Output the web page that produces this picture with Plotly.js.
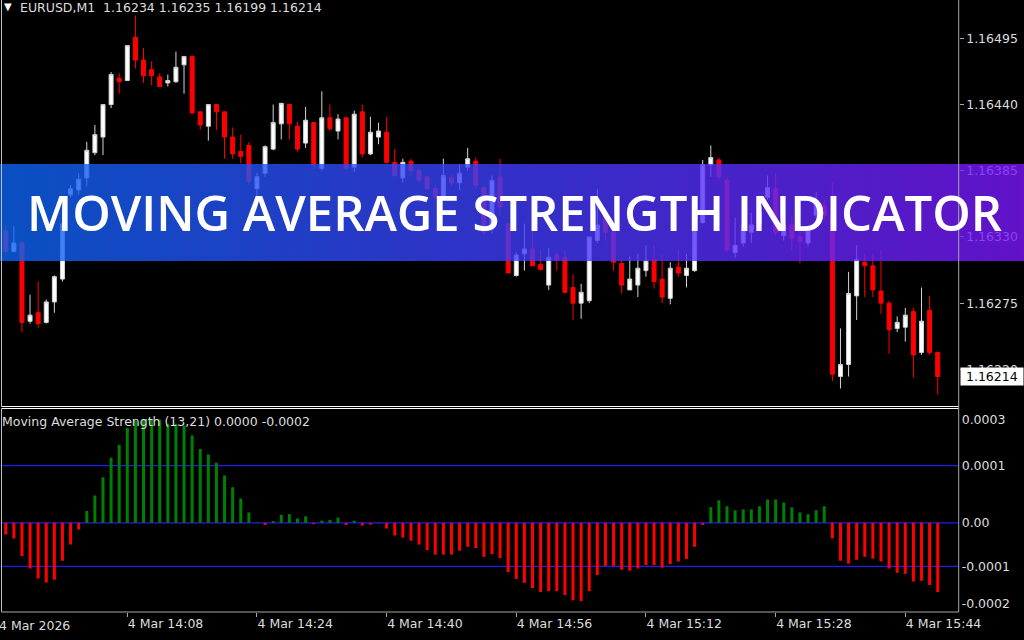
<!DOCTYPE html>
<html>
<head>
<meta charset="utf-8">
<script src="https://cdn.plot.ly/plotly-3.0.1.min.js"></script>
<style>
html,body{margin:0;padding:0;background:#000;overflow:hidden}
#chart{width:1024px;height:640px}
</style>
</head>
<body>
<div id="chart"></div>
<script>
// ---------- data ----------
const minutes = ['13:53','13:54','13:55','13:56','13:57','13:58','13:59',
'14:00','14:01','14:02','14:03','14:04','14:05','14:06','14:07','14:08','14:09','14:10','14:11','14:12','14:13','14:14','14:15','14:16','14:17','14:18','14:19',
'14:20','14:21','14:22','14:23','14:24','14:25','14:26','14:27','14:28','14:29','14:30','14:31','14:32','14:33','14:34','14:35','14:36','14:37','14:38','14:39',
'14:40','14:41','14:42','14:43','14:44','14:45','14:46','14:47','14:48','14:49','14:50','14:51','14:52','14:53','14:54','14:55','14:56','14:57','14:58','14:59',
'15:00','15:01','15:02','15:03','15:04','15:05','15:06','15:07','15:08','15:09','15:10','15:11','15:12','15:13','15:14','15:15','15:16','15:17','15:18','15:19',
'15:20','15:21','15:22','15:23','15:24','15:25','15:26','15:27','15:28','15:29','15:30','15:31','15:32','15:33','15:34','15:35','15:36','15:37','15:38','15:39',
'15:40','15:41','15:42','15:43','15:44','15:45','15:46','15:47','15:48'];

const openP = [1.16335,1.16318,1.16325,1.16260,1.16267,1.16259,1.16276,1.16295,1.16365,1.16369,
1.16379,1.16400,1.16413,1.16440,1.16462,1.16460,1.16496,1.16477,1.16469,1.16463,
1.16458,1.16459,1.16473,1.16480,1.16434,1.16422,1.16440,1.16434,1.16413,1.16401,
1.16406,1.16370,1.16383,1.16403,1.16424,1.16440,1.16422,1.16408,1.16425,1.16387,
1.16429,1.16418,1.16429,1.16388,1.16434,1.16399,1.16413,1.16417,1.16392,1.16379,
1.16393,1.16385,1.16380,1.16370,1.16363,1.16379,1.16375,1.16388,1.16393,1.16371,
1.16339,1.16380,1.16341,1.16298,1.16316,1.16320,1.16307,1.16290,1.16315,1.16313,
1.16288,1.16275,1.16277,1.16327,1.16350,1.16334,1.16308,1.16286,1.16290,1.16302,
1.16311,1.16295,1.16279,1.16305,1.16298,1.16302,1.16342,1.16390,1.16394,1.16377,
1.16317,1.16325,1.16334,1.16341,1.16363,1.16370,1.16331,1.16340,1.16330,1.16325,
1.16348,1.16356,1.16348,1.16214,1.16224,1.16281,1.16309,1.16306,1.16285,1.16275,
1.16254,1.16255,1.16268,1.16234,1.16269,1.16234];

const highP = [1.16340,1.16339,1.16327,1.16282,1.16293,1.16278,1.16298,1.16344,1.16373,1.16383,
1.16409,1.16423,1.16440,1.16467,1.16466,1.16489,1.16514,1.16487,1.16476,1.16466,
1.16465,1.16484,1.16480,1.16481,1.16434,1.16440,1.16440,1.16434,1.16421,1.16415,
1.16409,1.16383,1.16406,1.16440,1.16441,1.16440,1.16426,1.16438,1.16425,1.16451,
1.16440,1.16432,1.16430,1.16435,1.16440,1.16430,1.16425,1.16430,1.16403,1.16395,
1.16395,1.16387,1.16381,1.16373,1.16395,1.16382,1.16390,1.16404,1.16396,1.16373,
1.16381,1.16395,1.16341,1.16317,1.16341,1.16336,1.16319,1.16321,1.16318,1.16319,
1.16299,1.16291,1.16330,1.16370,1.16352,1.16340,1.16312,1.16314,1.16316,1.16323,
1.16323,1.16315,1.16309,1.16319,1.16316,1.16344,1.16394,1.16406,1.16396,1.16379,
1.16346,1.16350,1.16350,1.16361,1.16381,1.16383,1.16348,1.16348,1.16334,1.16338,
1.16367,1.16361,1.16375,1.16254,1.16301,1.16323,1.16316,1.16316,1.16319,1.16277,
1.16264,1.16271,1.16271,1.16288,1.16281,1.16235];

const lowP = [1.16315,1.16317,1.16251,1.16258,1.16254,1.16258,1.16267,1.16293,1.16363,1.16365,
1.16372,1.16398,1.16398,1.16437,1.16449,1.16460,1.16470,1.16458,1.16456,1.16455,
1.16455,1.16458,1.16449,1.16433,1.16419,1.16410,1.16419,1.16395,1.16395,1.16391,
1.16373,1.16362,1.16380,1.16402,1.16411,1.16411,1.16401,1.16404,1.16387,1.16385,
1.16418,1.16411,1.16385,1.16384,1.16396,1.16398,1.16407,1.16391,1.16380,1.16375,
1.16381,1.16375,1.16369,1.16362,1.16362,1.16372,1.16369,1.16385,1.16370,1.16331,
1.16333,1.16348,1.16300,1.16297,1.16302,1.16306,1.16302,1.16286,1.16302,1.16283,
1.16261,1.16262,1.16275,1.16325,1.16327,1.16302,1.16283,1.16286,1.16280,1.16297,
1.16287,1.16275,1.16274,1.16297,1.16288,1.16301,1.16341,1.16380,1.16377,1.16317,
1.16313,1.16322,1.16325,1.16337,1.16361,1.16331,1.16327,1.16319,1.16308,1.16322,
1.16346,1.16344,1.16210,1.16204,1.16214,1.16261,1.16280,1.16280,1.16266,1.16233,
1.16251,1.16243,1.16213,1.16232,1.16232,1.16199];

const closeP = [1.16318,1.16325,1.16259,1.16265,1.16258,1.16276,1.16297,1.16341,1.16370,1.16378,
1.16402,1.16415,1.16440,1.16465,1.16459,1.16489,1.16477,1.16464,1.16464,1.16455,
1.16460,1.16471,1.16480,1.16433,1.16423,1.16440,1.16434,1.16413,1.16399,1.16397,
1.16376,1.16380,1.16405,1.16425,1.16441,1.16424,1.16403,1.16427,1.16390,1.16429,
1.16420,1.16428,1.16387,1.16432,1.16399,1.16417,1.16418,1.16392,1.16381,1.16392,
1.16385,1.16377,1.16370,1.16363,1.16381,1.16375,1.16383,1.16395,1.16373,1.16334,
1.16377,1.16355,1.16300,1.16315,1.16320,1.16306,1.16303,1.16313,1.16311,1.16284,
1.16275,1.16284,1.16330,1.16340,1.16334,1.16309,1.16290,1.16295,1.16304,1.16310,
1.16293,1.16280,1.16304,1.16300,1.16304,1.16342,1.16390,1.16396,1.16380,1.16319,
1.16323,1.16340,1.16340,1.16355,1.16371,1.16334,1.16340,1.16329,1.16326,1.16336,
1.16358,1.16348,1.16216,1.16224,1.16283,1.16311,1.16306,1.16286,1.16275,1.16253,
1.16259,1.16265,1.16232,1.16260,1.16234,1.16214];

// Moving Average Strength, in points (1 point = 0.00001)
const strengthPts = [-2.7,-3.6,-7.6,-10.5,-12.8,-13.7,-13.1,-8.7,-5.0,-1.5,
2.7,6.3,10.5,15.0,17.9,21.8,23.5,23.9,23.9,23.7,
22.8,22.8,22.4,20.1,17.0,15.7,13.8,10.9,8.2,5.6,
2.4,0.1,-0.5,0.4,1.8,2.0,1.0,1.5,-0.3,0.5,
0.7,1.2,-0.5,0.5,-0.6,-0.4,-0.1,-1.3,-2.9,-3.4,
-4.1,-5.0,-6.3,-7.3,-7.3,-7.3,-6.4,-5.5,-5.8,-7.8,
-7.2,-8.1,-11.3,-12.9,-13.8,-15.0,-15.9,-15.7,-15.7,-16.6,
-17.8,-18.0,-15.7,-12.0,-9.9,-9.9,-10.8,-11.0,-10.5,-9.7,
-9.7,-10.3,-9.5,-8.9,-8.3,-5.5,-0.5,3.6,5.2,3.8,
2.9,3.1,3.1,3.8,5.4,5.4,4.7,3.6,2.4,2.0,
2.9,3.8,-3.6,-8.7,-9.4,-8.5,-7.8,-8.2,-8.9,-10.5,
-11.5,-11.7,-13.5,-13.3,-14.3,-15.9];

const priceTicks = [1.16495,1.16440,1.16385,1.16330,1.16275,1.16220];
const priceTickText = ['1.16495','1.16440','1.16385','1.16330','1.16275','1.16220'];
const strengthTicks = [0.0002377,0.0001315,0,-0.0001,-0.0001867];
const strengthTickText = ['0.0003','0.0001','0.00','-0.0001','-0.0002'];
const levelValues = [0.0001315,0,-0.0001];
const timeTicks = ['14:08','14:24','14:40','14:56','15:12','15:28','15:44'];
const timeTickText = ['4 Mar 14:08','4 Mar 14:24','4 Mar 14:40','4 Mar 14:56','4 Mar 15:12','4 Mar 15:28','4 Mar 15:44'];
const firstDateLabel = '4 Mar 2026';
const headerText = 'EURUSD,M1\u00a0\u00a01.16234 1.16235 1.16199 1.16214';
const indicatorText = 'Moving Average Strength (13,21) 0.0000 -0.0002';
const lastPrice = 1.16214;
const bannerText = 'MOVING AVERAGE STRENGTH INDICATOR';

// ---------- build ----------
const day = '2026-03-04 ';
const times = minutes.map(m => day + m);
const W = 1024, H = 640;
const px = v => v / W;          // horizontal pixel -> paper
const py = v => 1 - v / H;      // vertical pixel -> paper
const X0 = px(1.5), X1 = px(958.7);
const xRange = [day + '13:52:28.6', day + '15:50:35.4'];

const strength = strengthPts.map(v => v * 1e-5);

const traces = [
  {
    type: 'candlestick', x: times, open: openP, high: highP, low: lowP, close: closeP,
    xaxis: 'x', yaxis: 'y', whiskerwidth: 0,
    increasing: {line: {color: '#d4d4d4', width: 1}, fillcolor: '#ffffff'},
    decreasing: {line: {color: '#ff0000', width: 1}, fillcolor: '#ff0000'},
    hoverinfo: 'skip', showlegend: false
  },
  {
    type: 'bar', x: times, y: strength.map(v => v > 0 ? v : null),
    xaxis: 'x2', yaxis: 'y2', width: 22000,
    marker: {color: '#008000', line: {width: 0}}, hoverinfo: 'skip', showlegend: false
  },
  {
    type: 'bar', x: times, y: strength.map(v => v < 0 ? v : null),
    xaxis: 'x2', yaxis: 'y2', width: 22000,
    marker: {color: '#ff0000', line: {width: 0}}, hoverinfo: 'skip', showlegend: false
  },
  {
    type: 'scatter', x: [0, 1, 1, 0, 0],
    y: [py(261), py(261), py(164), py(164), py(261)],
    xaxis: 'x3', yaxis: 'y3', mode: 'lines', fill: 'toself',
    line: {width: 0, color: 'rgba(0,0,0,0)'},
    fillgradient: {type: 'horizontal', colorscale: [
      [0, 'rgba(12,100,242,0.80)'],
      [0.5, 'rgba(62,60,250,0.80)'],
      [1, 'rgba(122,22,250,0.80)']
    ]},
    hoverinfo: 'skip', showlegend: false
  }
];

const tickFont = {family: 'DejaVu Sans', size: 12.5, color: '#dddddd'};

const shapes = [
  // main pane borders
  {type: 'line', xref: 'paper', yref: 'paper', x0: X0, x1: X0, y0: py(406.5), y1: 1, line: {color: '#bdbdbd', width: 1}},
  {type: 'line', xref: 'paper', yref: 'paper', x0: X0, x1: X1, y0: py(406.5), y1: py(406.5), line: {color: '#ffffff', width: 1}},
  // indicator pane borders
  {type: 'line', xref: 'paper', yref: 'paper', x0: X0, x1: X1, y0: py(408.5), y1: py(408.5), line: {color: '#ffffff', width: 1}},
  {type: 'line', xref: 'paper', yref: 'paper', x0: X0, x1: X0, y0: py(612), y1: py(408.5), line: {color: '#bdbdbd', width: 1}},
  {type: 'line', xref: 'paper', yref: 'paper', x0: X0, x1: X1, y0: py(612), y1: py(612), line: {color: '#a8a8a8', width: 1}},
  {type: 'line', xref: 'paper', yref: 'paper', x0: X1, x1: X1, y0: py(612), y1: 1, line: {color: '#a8a8a8', width: 1}}
].concat(levelValues.map(v => ({
  type: 'line', xref: 'x2 domain', yref: 'y2', x0: 0, x1: 1, y0: v, y1: v,
  layer: 'below', line: {color: '#1c1cf0', width: 1.2}
})));

const annotations = [
  {xref: 'paper', yref: 'paper', x: px(2.5), y: py(6), xanchor: 'left', yanchor: 'middle',
   text: '\u25BC', showarrow: false, font: {family: 'DejaVu Sans', size: 10, color: '#ffffff'}, borderpad: 0},
  {xref: 'paper', yref: 'paper', x: px(18.5), y: py(7.5), xanchor: 'left', yanchor: 'middle',
   text: headerText, showarrow: false, font: tickFont, borderpad: 0},
  {xref: 'paper', yref: 'paper', x: px(1), y: py(421.7), xanchor: 'left', yanchor: 'middle',
   text: indicatorText, showarrow: false, font: tickFont, borderpad: 0},
  {xref: 'paper', yref: 'paper', x: px(-2.4), y: py(625.7), xanchor: 'left', yanchor: 'middle',
   text: firstDateLabel, showarrow: false, font: tickFont, borderpad: 0},
  {xref: 'paper', yref: 'y', x: px(960), y: lastPrice, xanchor: 'left', yanchor: 'middle',
   text: '\u00a0' + lastPrice.toFixed(5) + '\u00a0', showarrow: false,
   font: {family: 'DejaVu Sans', size: 12.5, color: '#000000'}, bgcolor: '#ffffff', borderpad: 1},
  {xref: 'paper', yref: 'paper', x: px(514), y: py(212), xanchor: 'center', yanchor: 'middle',
   text: bannerText, showarrow: false,
   font: {family: 'Open Sans', size: 49, color: '#ffffff', weight: 600}}
];

const layout = {
  width: W, height: H, margin: {l: 0, r: 0, t: 0, b: 0, pad: 0},
  paper_bgcolor: '#000000', plot_bgcolor: 'rgba(0,0,0,0)',
  showlegend: false, barmode: 'overlay', hovermode: false, dragmode: false,
  font: tickFont,
  xaxis: {domain: [X0, X1], anchor: 'y', type: 'date', range: xRange,
    showticklabels: false, ticks: '', showgrid: false, zeroline: false, showline: false,
    rangeslider: {visible: false}, fixedrange: true},
  yaxis: {domain: [py(406.5), 1], anchor: 'x', side: 'right', range: [1.161891, 1.165269],
    tickmode: 'array', tickvals: priceTicks, ticktext: priceTickText,
    ticks: 'outside', ticklen: 4, tickcolor: '#a8a8a8', tickfont: tickFont,
    showgrid: false, zeroline: false, showline: false, fixedrange: true},
  xaxis2: {domain: [X0, X1], anchor: 'y2', type: 'date', range: xRange,
    tickmode: 'array', tickvals: timeTicks.map(t => day + t), ticktext: timeTickText,
    ticks: 'outside', ticklen: 4, tickcolor: '#a8a8a8', tickfont: tickFont,
    ticklabelposition: 'outside right',
    showgrid: false, zeroline: false, showline: false, fixedrange: true},
  yaxis2: {domain: [py(612), py(408.5)], anchor: 'x2', side: 'right', range: [-0.000205, 0.000263],
    tickmode: 'array', tickvals: strengthTicks, ticktext: strengthTickText,
    ticks: '', tickfont: tickFont, ticklabelstandoff: 2,
    showgrid: false, zeroline: false, showline: false, fixedrange: true},
  xaxis3: {domain: [0, 1], anchor: 'y3', range: [0, 1], visible: false, fixedrange: true},
  yaxis3: {domain: [0, 1], anchor: 'x3', range: [0, 1], visible: false, fixedrange: true},
  shapes: shapes,
  annotations: annotations
};

Plotly.newPlot('chart', traces, layout, {staticPlot: true, displayModeBar: false});
</script>
</body>
</html>
